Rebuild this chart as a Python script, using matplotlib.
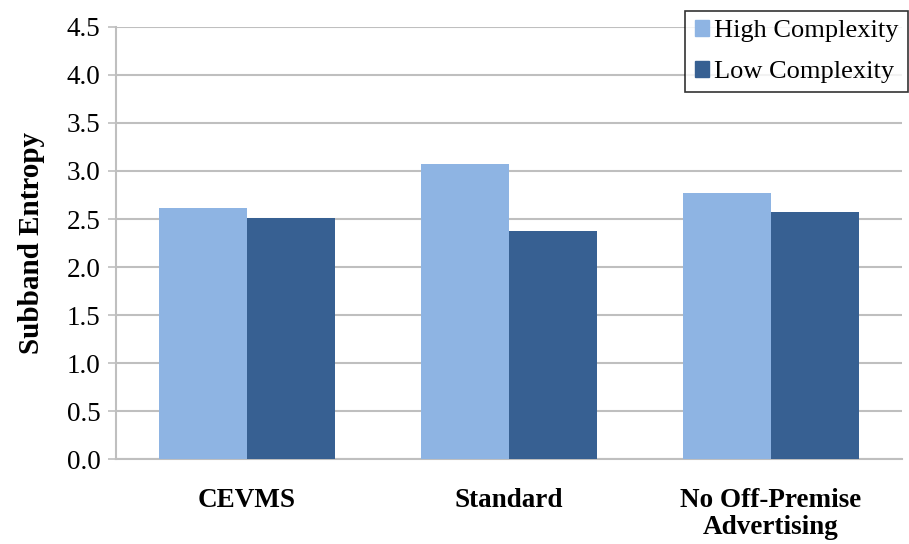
import numpy as np
import matplotlib.pyplot as plt
from matplotlib.patches import Patch

categories = ["CEVMS", "Standard", "No Off-Premise\nAdvertising"]
high = [2.61, 3.07, 2.77]
low = [2.51, 2.38, 2.57]
series_names = ["High Complexity", "Low Complexity"]
yticks = [0.0, 0.5, 1.0, 1.5, 2.0, 2.5, 3.0, 3.5, 4.0, 4.5]

plt.rcParams['font.family'] = ['Liberation Serif', 'DejaVu Serif']

fig = plt.figure(figsize=(9.09, 5.44), dpi=100)
ax = fig.add_axes([0.1276, 0.1562, 0.8644, 0.7942])

x = np.arange(len(categories))
w = 0.336
c_high = '#8EB4E3'
c_low = '#376092'
ax.bar(x - w/2, high, w, color=c_high, zorder=3)
ax.bar(x + w/2, low, w, color=c_low, zorder=3)

ax.set_xlim(-0.5, 2.5)
ax.set_ylim(0, 4.5)
ax.set_yticks(yticks)
ax.set_yticklabels([f"{v:.1f}" for v in yticks], fontsize=19.5)
ax.set_xticks(x)
ax.set_xticklabels(categories, fontsize=19.5, fontweight='bold', linespacing=1.1)
ax.tick_params(axis='x', length=0, pad=21)
ax.tick_params(axis='y', length=6, width=1.2, color='#BFBFBF', pad=5)
ax.yaxis.grid(True, color='#BFBFBF', linewidth=1.5, zorder=0)
for s in ['top', 'right']:
    ax.spines[s].set_visible(False)
ax.spines['left'].set_color('#BFBFBF')
ax.spines['left'].set_linewidth(1.5)
ax.spines['bottom'].set_color('#BFBFBF')
ax.spines['bottom'].set_linewidth(1.5)

ax.set_ylabel("Subband Entropy", fontsize=21, fontweight='bold', labelpad=16)

handles = [Patch(color=c_high), Patch(color=c_low)]
leg = fig.legend(handles, series_names, loc='upper right', bbox_to_anchor=(0.999, 0.98),
                 fontsize=19, frameon=True, fancybox=False, edgecolor='black',
                 handlelength=0.55, handleheight=0.55, handletextpad=0.2,
                 borderpad=0.35, labelspacing=0.7, borderaxespad=0)
leg.get_frame().set_linewidth(1.2)

fig.savefig("out.png", dpi=100)
